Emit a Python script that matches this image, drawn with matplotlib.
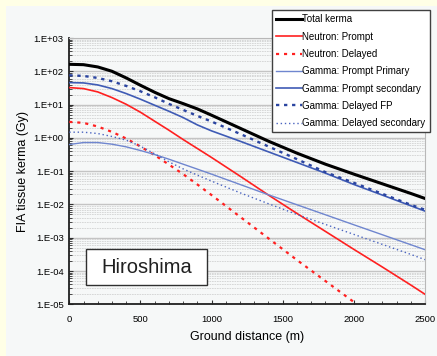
import numpy as np
import matplotlib
matplotlib.use("Agg")
from matplotlib import pyplot as plt
from matplotlib.patches import Rectangle
from matplotlib.ticker import FixedLocator, FuncFormatter, MultipleLocator

# ground distance (m)
distance = [0, 100, 200, 300, 400, 500, 600, 700, 800, 900, 1000,
            1200, 1400, 1600, 1800, 2000, 2200, 2400, 2500]

# FIA tissue kerma (Gy)
total_kerma = [162, 158, 135, 100, 63.1, 38.0, 23.4, 15.1, 10.7, 7.41, 4.79,
               1.95, 0.794, 0.347, 0.162, 0.0813, 0.0417, 0.0214, 0.0151]
neutron_prompt = [32.4, 30.2, 24.0, 16.2, 10.2, 5.89, 3.16, 1.70, 0.891, 0.479, 0.257,
                  0.0708, 0.0191, 5.37e-3, 1.55e-3, 4.47e-4, 1.32e-4, 3.80e-5, 2.0e-5]
neutron_delayed = [3.02, 2.82, 2.19, 1.51, 0.955, 0.550, 0.302, 0.158, 0.0813, 0.0398, 0.0191,
                   4.27e-3, 9.55e-4, 2.14e-4, 5.01e-5, 1.17e-5]
gamma_prompt_primary = [0.631, 0.724, 0.724, 0.646, 0.537, 0.417, 0.316, 0.229, 0.162, 0.115, 0.0813,
                        0.0398, 0.0195, 9.77e-3, 4.90e-3, 2.45e-3, 1.23e-3, 6.17e-4, 4.37e-4]
gamma_prompt_secondary = [45.7, 44.7, 38.9, 30.2, 21.4, 14.5, 9.55, 6.31, 4.07, 2.45, 1.62,
                          0.794, 0.380, 0.182, 0.0871, 0.0398, 0.0191, 9.12e-3, 6.31e-3]
gamma_delayed_fp = [75.9, 72.4, 63.1, 50.1, 36.3, 25.1, 16.6, 10.5, 6.92, 4.57, 3.09,
                    1.32, 0.550, 0.229, 0.0933, 0.0447, 0.0209, 9.77e-3, 6.92e-3]
gamma_delayed_secondary = [1.48, 1.48, 1.35, 1.10, 0.851, 0.562, 0.331, 0.191, 0.117, 0.0759, 0.0501,
                           0.0224, 0.0105, 5.01e-3, 2.51e-3, 1.26e-3, 6.31e-4, 3.16e-4, 2.19e-4]

labels = ["Total kerma", "Neutron: Prompt", "Neutron: Delayed",
          "Gamma: Prompt Primary", "Gamma: Prompt secondary",
          "Gamma: Delayed FP", "Gamma: Delayed secondary"]

plt.rcParams['font.family'] = ['Liberation Sans', 'DejaVu Sans']

fig = plt.figure(figsize=(4.37, 3.56), dpi=100, facecolor='#FFFFE6')
# light panel behind the chart
fig.patches.append(Rectangle((6 / 437, 0), 1, 350 / 356, transform=fig.transFigure,
                             facecolor='#F6F8F8', edgecolor='none', zorder=-5))

ax = fig.add_axes([69.3 / 437, 51.7 / 356, 355.7 / 437, 266.3 / 356])
ax.set_facecolor('#F6F8F8')

d_delayed = distance[:len(neutron_delayed)]
ax.plot(distance, total_kerma, color='black', lw=2.2, label=labels[0], zorder=5)
ax.plot(distance, neutron_prompt, color='#FF2020', lw=1.2, label=labels[1], zorder=4)
ax.plot(d_delayed, neutron_delayed, color='#FF2020', lw=1.6, dashes=(1.4, 2.2),
        label=labels[2], zorder=4)
ax.plot(distance, gamma_prompt_primary, color='#6F86CF', lw=1.0, label=labels[3], zorder=4)
ax.plot(distance, gamma_prompt_secondary, color='#3F5BB5', lw=1.2, label=labels[4], zorder=4)
ax.plot(distance, gamma_delayed_fp, color='#2A44A0', lw=1.7, dashes=(1.4, 2.0),
        label=labels[5], zorder=4)
ax.plot(distance, gamma_delayed_secondary, color='#4A64C0', lw=1.0, dashes=(1, 2),
        label=labels[6], zorder=4)

ax.set_yscale('log')
ax.set_xlim(0, 2500)
ax.set_ylim(1e-5, 1e3)

ax.yaxis.set_major_locator(FixedLocator([10.0 ** e for e in range(-5, 4)]))
ax.yaxis.set_major_formatter(FuncFormatter(lambda v, p: "1.E%+03d" % round(np.log10(v))))
ax.yaxis.set_minor_locator(FixedLocator([m * 10.0 ** e for e in range(-5, 3) for m in range(2, 10)]))
ax.yaxis.set_minor_formatter(FuncFormatter(lambda v, p: ""))
ax.xaxis.set_major_locator(MultipleLocator(500))
ax.xaxis.set_minor_locator(MultipleLocator(100))

ax.grid(True, axis='y', which='major', color='#C4C4C4', lw=1.0, zorder=1)
ax.grid(True, axis='y', which='minor', color='#D2D2D2', lw=0.6, ls=(0, (2, 1)), zorder=1)
ax.set_axisbelow(True)

ax.tick_params(axis='both', which='both', direction='in', labelsize=6.8, color='#303030')
ax.tick_params(axis='both', which='major', length=3, pad=4)
ax.tick_params(axis='both', which='minor', length=2)
ax.tick_params(axis='x', which='major', pad=8)
for side in ['left', 'bottom']:
    ax.spines[side].set_linewidth(1.3)
    ax.spines[side].set_color('#202020')
for side in ['top', 'right']:
    ax.spines[side].set_linewidth(0.8)
    ax.spines[side].set_color('#B8B8B8')

ax.set_xlabel("Ground distance (m)", fontsize=9, labelpad=5)
ax.set_ylabel("FIA tissue kerma (Gy)", fontsize=9, labelpad=3)

leg = fig.legend(loc='upper right', bbox_to_anchor=(430 / 437, 346 / 356),
                 fontsize=7, frameon=True, fancybox=False, handlelength=2.6,
                 handletextpad=0.1, labelspacing=0.75, borderpad=0.45, borderaxespad=0)
leg.get_frame().set_edgecolor('#404040')
leg.get_frame().set_linewidth(1.0)
leg.get_frame().set_facecolor('white')
leg.get_frame().set_alpha(1)

# place label box
ax.add_patch(Rectangle((0.047, 0.0713), 0.339, 0.135, transform=ax.transAxes,
                       facecolor='white', edgecolor='#303030', lw=1.0, zorder=6))
ax.text(0.2165, 0.139, "Hiroshima", transform=ax.transAxes, fontsize=14.5,
        ha='center', va='center', color='#202020', zorder=7)

fig.savefig("out.png", dpi=100, facecolor=fig.get_facecolor())
